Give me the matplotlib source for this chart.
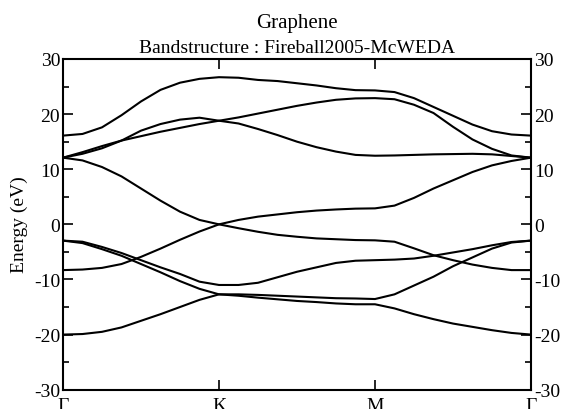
import numpy as np
import matplotlib
matplotlib.use("Agg")
import matplotlib.pyplot as plt
from matplotlib.ticker import MultipleLocator

plt.rcParams['font.family'] = ['Liberation Serif', 'DejaVu Serif']
plt.rcParams['axes.unicode_minus'] = False

###
### Band energies (eV) along G-K, K-M, M-G, 8 steps per segment
###
path_labels = ['\u0393', 'K', 'M', '\u0393']

band_a = [-20.0, -19.9, -19.5, -18.7, -17.5, -16.3, -15.0, -13.7, -12.7,
          -12.95, -13.3, -13.6, -13.9, -14.1, -14.35, -14.5, -14.5,
          -15.25, -16.3, -17.2, -18.0, -18.6, -19.2, -19.7, -20.0]
band_b = [-2.95, -3.4, -4.5, -5.7, -7.2, -8.7, -10.3, -11.7, -12.7,
          -12.7, -12.8, -12.95, -13.1, -13.25, -13.4, -13.45, -13.55,
          -12.7, -11.1, -9.5, -7.6, -6.0, -4.4, -3.3, -2.95]
band_c = [-2.95, -3.15, -4.1, -5.2, -6.5, -7.8, -9.0, -10.4, -11.0,
          -11.0, -10.6, -9.6, -8.6, -7.8, -7.0, -6.6, -6.5,
          -6.4, -6.2, -5.7, -5.1, -4.5, -3.8, -3.2, -2.95]
band_d = [-8.3, -8.2, -7.9, -7.2, -5.9, -4.4, -2.8, -1.3, 0.0,
          -0.7, -1.35, -1.9, -2.25, -2.55, -2.7, -2.85, -2.9,
          -3.15, -4.35, -5.6, -6.5, -7.3, -7.9, -8.3, -8.3]
band_e = [12.1, 11.6, 10.4, 8.7, 6.5, 4.3, 2.3, 0.8, 0.0,
          0.8, 1.4, 1.8, 2.2, 2.5, 2.7, 2.85, 2.9,
          3.4, 4.8, 6.5, 8.0, 9.5, 10.7, 11.5, 12.1]
band_f = [12.1, 12.8, 13.8, 15.2, 17.0, 18.2, 19.0, 19.35, 18.8,
          18.3, 17.3, 16.2, 15.0, 14.0, 13.2, 12.6, 12.45,
          12.5, 12.6, 12.7, 12.75, 12.8, 12.7, 12.4, 12.1]
band_g = [12.1, 13.1, 14.2, 15.2, 16.0, 16.8, 17.5, 18.2, 18.8,
          19.4, 20.1, 20.8, 21.5, 22.1, 22.6, 22.85, 22.9,
          22.7, 21.7, 20.2, 17.7, 15.4, 13.7, 12.5, 12.1]
band_h = [16.1, 16.4, 17.6, 19.8, 22.3, 24.4, 25.7, 26.4, 26.7,
          26.6, 26.2, 26.0, 25.6, 25.2, 24.7, 24.35, 24.3,
          24.0, 22.9, 21.3, 19.7, 18.1, 16.9, 16.3, 16.1]

bands = [band_a, band_b, band_c, band_d, band_e, band_f, band_g, band_h]

# k-path coordinate: each high-symmetry segment has unit length
nseg = 8
kpath = np.arange(len(band_a)) / nseg

###
### Plot
###
fig = plt.figure(figsize=(5.64, 4.10), dpi=100)
ax = fig.add_axes([63/564, 1 - 390.7/410, 468/564, 330.7/410])

for b in bands:
    ax.plot(kpath, b, color='black', lw=1.5)

ax.set_xlim(0, 3)
ax.set_ylim(-30, 30)
ax.set_xticks([0, 1, 2, 3])
ax.set_xticklabels(path_labels)
ax.yaxis.set_major_locator(MultipleLocator(10))
ax.yaxis.set_minor_locator(MultipleLocator(5))

ax.tick_params(axis='both', which='both', direction='in',
               top=True, right=True, labelright=True, width=1.2)
ax.tick_params(axis='y', which='major', length=7, pad=2, labelsize=14)
ax.tick_params(axis='y', which='minor', length=4)
ax.tick_params(axis='x', which='major', length=7, pad=5, labelsize=14)
for s in ax.spines.values():
    s.set_linewidth(1.5)

fig.text(19/564, 1 - 225/410, 'Energy (eV)', rotation=90,
         ha='center', va='center', fontsize=14)
fig.text(297/564, 1 - 28/410, 'Graphene', ha='center', va='baseline',
         fontsize=15)
fig.text(297/564, 1 - 53/410, 'Bandstructure : Fireball2005-McWEDA',
         ha='center', va='baseline', fontsize=14)

fig.savefig('out.png', dpi=100)
